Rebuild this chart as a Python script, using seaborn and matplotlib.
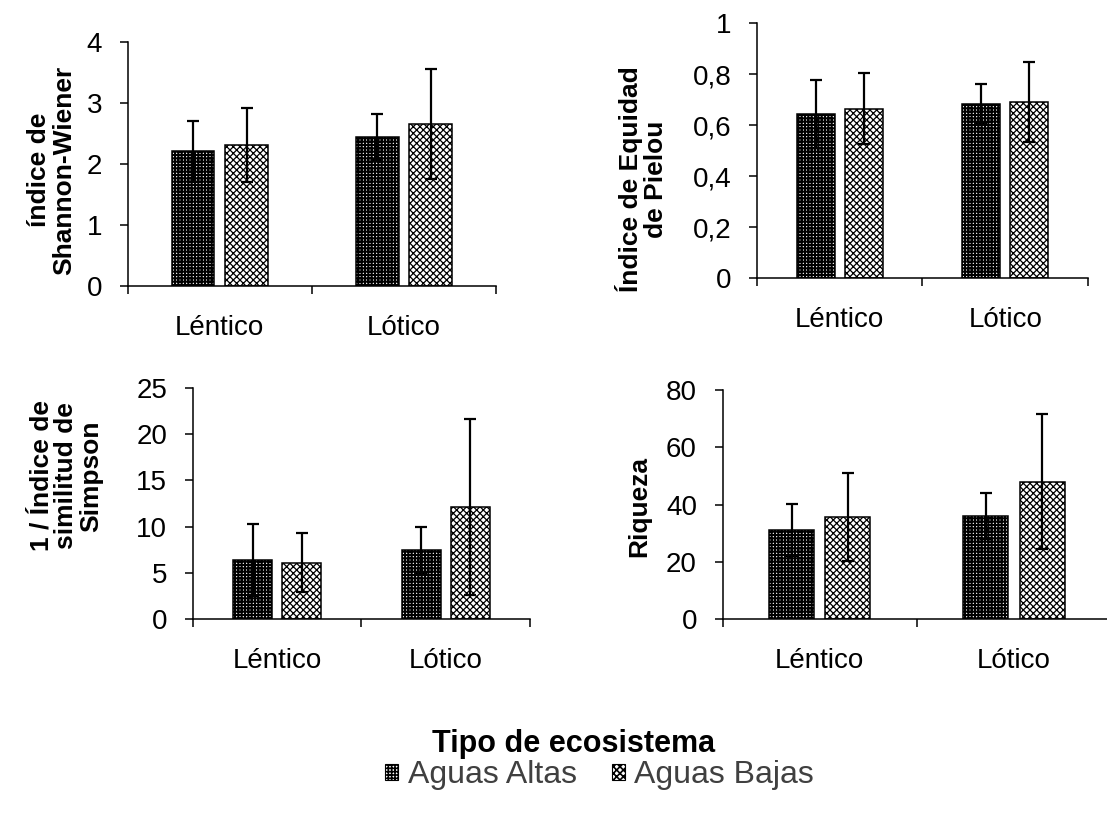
import matplotlib
matplotlib.use("Agg")
import matplotlib.pyplot as plt
import matplotlib.patches as mpatches
import pandas as pd
import seaborn as sns

# datos
tipos = ["Léntico", "Lótico"]
temporadas = ["Aguas Altas", "Aguas Bajas"]

shannon_altas = [2.21, 2.44]
shannon_bajas = [2.31, 2.66]
shannon_altas_err = [0.50, 0.38]
shannon_bajas_err = [0.61, 0.90]

pielou_altas = [0.643, 0.684]
pielou_bajas = [0.664, 0.690]
pielou_altas_err = [0.133, 0.077]
pielou_bajas_err = [0.139, 0.157]

simpson_altas = [6.4, 7.5]
simpson_bajas = [6.1, 12.1]
simpson_altas_err = [3.9, 2.5]
simpson_bajas_err = [3.2, 9.5]

riqueza_altas = [31.1, 36.1]
riqueza_bajas = [35.5, 48.0]
riqueza_altas_err = [9.0, 8.1]
riqueza_bajas_err = [15.4, 23.6]

shannon_ticks = [0, 1, 2, 3, 4]
shannon_ticklabels = ["0", "1", "2", "3", "4"]
pielou_ticks = [0, 0.2, 0.4, 0.6, 0.8, 1]
pielou_ticklabels = ["0", "0,2", "0,4", "0,6", "0,8", "1"]
simpson_ticks = [0, 5, 10, 15, 20, 25]
simpson_ticklabels = ["0", "5", "10", "15", "20", "25"]
riqueza_ticks = [0, 20, 40, 60, 80]
riqueza_ticklabels = ["0", "20", "40", "60", "80"]

sns.set_theme(style="white")
plt.rcParams["font.family"] = ["Liberation Sans", "DejaVu Sans"]
plt.rcParams["text.color"] = "black"
plt.rcParams["axes.labelcolor"] = "black"
plt.rcParams["xtick.color"] = "black"
plt.rcParams["ytick.color"] = "black"
plt.rcParams["hatch.linewidth"] = 1.2

HATCHES = ["+++++", "xxxxx"]
HATCH_LW = [1.5, 0.9]


def hatch_it(patch, i):
    patch.set_hatch(HATCHES[i])
    if hasattr(patch, "set_hatch_linewidth"):
        patch.set_hatch_linewidth(HATCH_LW[i])


def panel(ax, altas, bajas, err_altas, err_bajas, ticks, ticklabels, ylabel, labx, laby):
    df = pd.DataFrame({
        "tipo": tipos * 2,
        "temporada": [temporadas[0]] * 2 + [temporadas[1]] * 2,
        "valor": altas + bajas,
    })
    sns.barplot(data=df, x="tipo", y="valor", hue="temporada", order=tipos,
                hue_order=temporadas, palette=["white", "white"], saturation=1,
                width=0.58, gap=0.2, edgecolor="black", linewidth=1.1,
                errorbar=None, legend=False, ax=ax)
    for i, (cont, errs) in enumerate(zip(ax.containers, [err_altas, err_bajas])):
        for bar, e in zip(cont, errs):
            hatch_it(bar, i)
            x = bar.get_x() + bar.get_width() / 2
            ax.errorbar(x, bar.get_height(), yerr=e, fmt="none", ecolor="black",
                        elinewidth=1.6, capsize=4.3, capthick=1.6, zorder=5)
    ax.set_xlim(-0.5, 1.5)
    ax.set_ylim(ticks[0], ticks[-1])
    ax.set_yticks(ticks)
    ax.set_yticklabels(ticklabels)
    ax.set_xticks([0, 1])
    ax.set_xticklabels(tipos)
    ax.set_xticks([-0.5, 0.5, 1.5], minor=True)
    ax.tick_params(axis="x", which="major", length=0, pad=21, labelsize=20)
    ax.tick_params(axis="x", which="minor", length=6, width=1.1, direction="out", bottom=True)
    ax.tick_params(axis="y", length=5.5, width=1.1, direction="out", left=True, labelsize=20, pad=13)
    sns.despine(ax=ax)
    for s in ["left", "bottom"]:
        ax.spines[s].set_color("black")
        ax.spines[s].set_linewidth(1.1)
    ax.set_xlabel("")
    ax.set_ylabel(ylabel, fontsize=19, fontweight="bold", linespacing=1.05)
    ax.yaxis.set_label_coords(labx, laby)
    ax.set_facecolor("white")


fig = plt.figure(figsize=(11.07, 8.16), dpi=100)
fig.patch.set_facecolor("white")

ax1 = fig.add_axes([0.1154, 0.6495, 0.3327, 0.299])
ax2 = fig.add_axes([0.6838, 0.6593, 0.299, 0.3125])
ax3 = fig.add_axes([0.1741, 0.2414, 0.3047, 0.2831])
ax4 = fig.add_axes([0.6528, 0.2414, 0.3508, 0.2806])

panel(ax1, shannon_altas, shannon_bajas, shannon_altas_err, shannon_bajas_err,
      shannon_ticks, shannon_ticklabels, "índice de\nShannon-Wiener", -0.14, 0.475)
panel(ax2, pielou_altas, pielou_bajas, pielou_altas_err, pielou_bajas_err,
      pielou_ticks, pielou_ticklabels, "Índice de Equidad\nde Pielou", -0.27, 0.388)
panel(ax3, simpson_altas, simpson_bajas, simpson_altas_err, simpson_bajas_err,
      simpson_ticks, simpson_ticklabels, "1 / Índice de\nsimilitud de\nSimpson", -0.265, 0.62)
panel(ax4, riqueza_altas, riqueza_bajas, riqueza_altas_err, riqueza_bajas_err,
      riqueza_ticks, riqueza_ticklabels, "Riqueza", -0.185, 0.49)

fig.text(574 / 1107, 1 - 752 / 816, "Tipo de ecosistema", ha="center", va="baseline",
         fontsize=22, fontweight="bold")

handles = []
for i in range(2):
    h = mpatches.Patch(facecolor="white", edgecolor="black", linewidth=0.8)
    hatch_it(h, i)
    handles.append(h)
fig.legend(handles, temporadas, loc="center", bbox_to_anchor=(0.5416, 0.05), ncol=2,
           frameon=False, fontsize=23, handlelength=0.4, handleheight=0.4,
           handletextpad=0.3, columnspacing=1.1, labelcolor="#404040")

fig.savefig("out.png", dpi=100, facecolor="white")
